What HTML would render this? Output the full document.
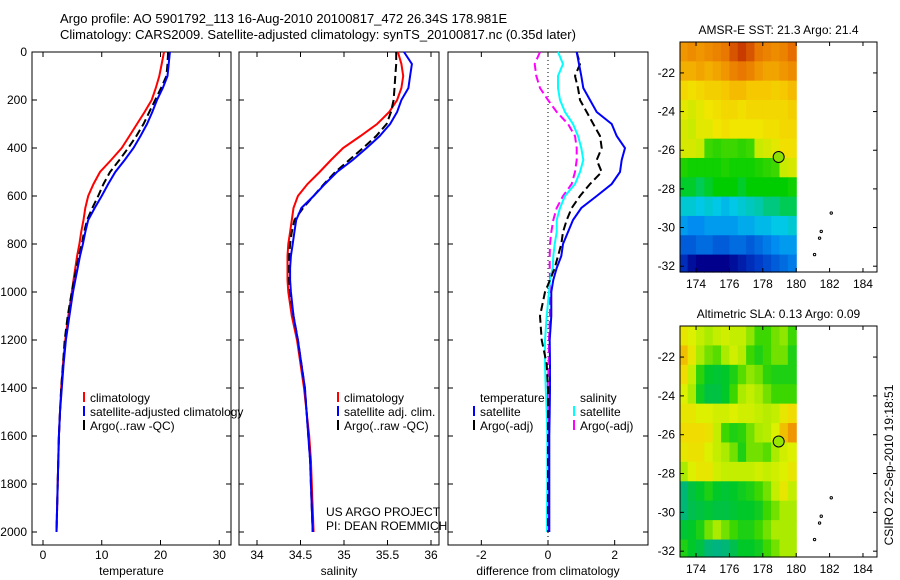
<!DOCTYPE html>
<html><head><meta charset="utf-8">
<style>
html,body{margin:0;padding:0;background:#fff;}
svg{display:block;font-family:"Liberation Sans",sans-serif;}
text{font-size:12px;fill:#000;}
</style></head>
<body>
<svg id="chart" width="900" height="580" viewBox="0 0 900 580" xmlns="http://www.w3.org/2000/svg">
<text x="60" y="23" style="font-size:13px">Argo profile: AO 5901792_113 16-Aug-2010 20100817_472 26.34S 178.981E</text>
<text x="60" y="39" style="font-size:13px">Climatology: CARS2009. Satellite-adjusted climatology: synTS_20100817.nc (0.35d later)</text>
</svg>
<script>
// ---------- data ----------
const depths = [0,50,100,150,200,250,300,350,400,450,500,550,600,650,700,750,800,850,900,950,1000,1100,1200,1300,1400,1500,1600,1700,1800,1900,2000];
const tempClim = [20.6,20.2,19.8,19.2,18.5,17.3,16.0,14.7,13.4,11.6,9.7,8.6,7.7,7.2,6.9,6.5,6.2,5.8,5.5,5.2,4.9,4.3,3.8,3.4,3.1,2.9,2.7,2.6,2.5,2.4,2.3];
const tempSat  = [21.6,21.4,21.2,20.4,19.4,18.6,17.7,16.6,15.4,13.9,12.3,11.1,10.0,8.8,7.7,7.2,6.8,6.3,5.9,5.5,5.1,4.5,3.9,3.5,3.2,2.9,2.7,2.6,2.5,2.4,2.3];
const tempArgo = [21.3,21.2,21.0,20.1,19.1,18.1,17.1,15.9,14.5,13.0,11.4,10.3,9.4,8.4,7.5,7.0,6.6,6.1,5.7,5.3,4.9,4.2,3.7,3.4,3.1,2.9,2.7,2.6,2.5,2.4,2.3];
const salClim = [35.62,35.66,35.68,35.66,35.61,35.52,35.38,35.19,34.99,34.85,34.72,34.58,34.47,34.42,34.40,34.38,34.36,34.35,34.35,34.35,34.36,34.40,34.46,34.50,34.54,34.57,34.60,34.62,34.63,34.64,34.65];
const salSat  = [35.69,35.78,35.76,35.74,35.66,35.61,35.53,35.41,35.26,35.10,34.92,34.78,34.65,34.51,34.45,34.43,34.41,34.39,34.38,34.38,34.39,34.42,34.47,34.51,34.55,34.57,34.59,34.61,34.62,34.63,34.64];
const salArgo = [35.60,35.60,35.59,35.58,35.57,35.54,35.49,35.37,35.22,35.06,34.90,34.77,34.65,34.53,34.43,34.40,34.38,34.37,34.37,34.37,34.38,34.42,34.47,34.51,34.55,34.57,34.59,34.61,34.62,34.63,34.64];
const diffTempSat  = [0.86,0.93,1.00,1.06,1.26,1.46,1.91,2.06,2.31,2.21,2.16,1.91,1.46,1.00,0.75,0.60,0.45,0.40,0.26,0.16,0.10,0.10,0.05,0.06,0.06,0.05,0.04,0.04,0.04,0.04,0.04];
const diffTempArgo = [0.86,0.96,0.81,0.90,0.96,1.16,1.36,1.56,1.61,1.46,1.61,1.26,0.96,0.71,0.56,0.45,0.40,0.30,0.20,0.06,-0.09,-0.24,-0.19,-0.04,0.00,0.00,0.00,0.00,0.00,0.00,0.00];
const diffSalSat   = [0.30,0.45,0.30,0.30,0.36,0.51,0.75,0.90,1.00,1.06,0.96,0.81,0.51,0.36,0.26,0.26,0.20,0.16,0.14,0.06,0.03,-0.04,-0.09,-0.09,-0.07,-0.04,-0.02,-0.02,-0.02,-0.03,-0.03];
const diffSalArgo  = [-0.24,-0.40,-0.35,-0.24,0.00,0.26,0.60,0.81,0.86,0.86,0.81,0.71,0.45,0.26,0.16,0.10,0.06,0.05,0.05,0.06,0.06,0.06,0.03,0.02,-0.01,-0.01,-0.01,-0.01,-0.01,-0.01,-0.01];
const depthTicks = [0,200,400,600,800,1000,1200,1400,1600,1800,2000];
const tempTicks = [0,10,20,30];
const salTicks = [34,34.5,35,35.5,36];
const diffTicks = [-2,0,2];
const mapLonTicks = [174,176,178,180,182,184];
const mapLatTicks = [22,24,26,28,30,32];
const gridLons = [173,173.5,174,174.5,175,175.5,176,176.5,177,177.5,178,178.5,179,179.5];
const gridLats = [20.4,21.4,22.4,23.4,24.4,25.4,26.4,27.4,28.4,29.4,30.4,31.4];
const sstGrid = [
[22.6,22.7,22.6,22.7,22.8,22.9,23.1,23.2,23.1,22.9,22.8,22.7,22.8,23.0],
[22.4,22.4,22.5,22.4,22.5,22.6,22.8,22.9,22.8,22.6,22.5,22.5,22.6,22.7],
[22.0,21.9,22.0,22.1,22.1,22.2,22.3,22.3,22.2,22.2,22.2,22.1,22.2,22.3],
[21.7,21.6,21.7,21.8,21.9,22.0,22.0,21.9,22.0,22.0,22.0,22.0,22.0,22.1],
[21.6,21.5,21.7,21.7,21.8,21.9,21.8,21.8,21.8,21.8,21.9,21.9,22.0,22.0],
[21.6,21.6,21.5,21.3,21.2,21.3,21.3,21.2,21.3,21.5,21.6,21.7,21.9,21.9],
[21.1,21.0,21.0,21.0,21.0,21.1,21.0,21.0,21.0,21.1,21.2,21.3,21.5,21.6],
[20.8,20.8,20.7,20.8,20.9,20.9,20.9,20.8,20.9,20.9,20.9,20.9,20.9,21.0],
[20.3,20.3,20.2,20.3,20.2,20.1,20.2,20.3,20.4,20.5,20.6,20.6,20.7,20.7],
[19.9,19.8,19.8,19.9,19.9,19.9,19.9,20.0,20.0,20.1,20.1,20.2,20.2,20.3],
[19.5,19.5,19.6,19.6,19.5,19.5,19.6,19.6,19.5,19.6,19.7,19.8,19.9,19.9],
[19.2,19.0,18.9,18.9,18.9,18.9,19.0,19.1,19.2,19.3,19.4,19.5,19.6,19.7]];
const slaGrid = [
[0.18,0.16,0.14,0.12,0.14,0.15,0.14,0.14,0.11,0.08,0.08,0.10,0.11,0.08],
[0.22,0.18,0.12,0.10,0.09,0.12,0.15,0.13,0.08,0.06,0.08,0.10,0.10,0.06],
[0.20,0.14,0.07,0.04,0.03,0.04,0.06,0.09,0.11,0.10,0.07,0.06,0.06,0.06],
[0.16,0.12,0.05,0.02,0.02,0.04,0.08,0.12,0.14,0.12,0.10,0.08,0.08,0.08],
[0.18,0.18,0.16,0.16,0.15,0.15,0.16,0.15,0.15,0.14,0.13,0.14,0.18,0.20],
[0.20,0.20,0.20,0.19,0.14,0.08,0.06,0.07,0.10,0.12,0.13,0.16,0.22,0.25],
[0.18,0.19,0.19,0.16,0.14,0.12,0.10,0.06,0.10,0.10,0.09,0.12,0.15,0.16],
[0.12,0.16,0.18,0.18,0.15,0.14,0.14,0.14,0.14,0.15,0.14,0.15,0.16,0.18],
[-0.02,0.02,0.04,0.06,0.04,0.03,0.04,0.05,0.06,0.08,0.10,0.14,0.18,0.14],
[-0.02,0.01,0.02,0.03,0.02,0.02,0.03,0.04,0.04,0.05,0.08,0.10,0.12,0.12],
[0.03,0.04,0.06,0.10,0.12,0.10,0.08,0.06,0.06,0.08,0.10,0.12,0.12,0.12],
[0.06,0.04,0.02,-0.02,-0.03,-0.02,0.01,0.04,0.04,0.05,0.08,0.10,0.12,0.12]];
const islandLons = [182.1,181.5,181.4,181.1];
const islandLats = [29.25,30.2,30.55,31.4];
const argoLon = 178.95, argoLat = 26.35;

// ---------- helpers ----------
const NS='http://www.w3.org/2000/svg';
const svg=document.getElementById('chart');
function mk(tag,attrs,parent){const e=document.createElementNS(NS,tag);for(const k in attrs)e.setAttribute(k,attrs[k]);(parent||svg).appendChild(e);return e;}
function txt(s,attrs,parent){const e=mk('text',attrs,parent);e.textContent=s;return e;}
const yD=d=>52+0.24*d;
function panel(name,x0,x1,xmin,xmax){return {name,x0,x1,sx:v=>x0+(v-xmin)/(xmax-xmin)*(x1-x0)};}
const P1=panel('temperature',32,231,-1.87,32.0);
const P2=panel('salinity',239,439,33.793,36.092);
const P3=panel('difference',448,648,-3.0,3.0);

function frame(p,ticks,fmt,label,showY){
  const g=mk('g',{});
  
  
  const r=mk('rect',{x:p.x0,y:52,width:p.x1-p.x0,height:493,fill:'none',stroke:'#000','stroke-width':1},g);
  
  
  depthTicks.forEach(d=>{
    mk('line',{x1:p.x0,x2:p.x0+5,y1:yD(d),y2:yD(d),stroke:'#000'},g);
    mk('line',{x1:p.x1,x2:p.x1-5,y1:yD(d),y2:yD(d),stroke:'#000'},g);
    if(showY){const t=txt(String(d),{x:27,y:yD(d)+4,'text-anchor':'end'},g);
      
      }
  });
  ticks.forEach(v=>{const x=p.sx(v);
    mk('line',{x1:x,x2:x,y1:545,y2:540,stroke:'#000'},g);
    mk('line',{x1:x,x2:x,y1:52,y2:57,stroke:'#000'},g);
    const t=txt(fmt(v),{x:x,y:559,'text-anchor':'middle'},g);
    
    
  });
  const l=txt(label,{x:(p.x0+p.x1)/2,y:575,'text-anchor':'middle'},g);
  
  
}
frame(P1,tempTicks,String,'temperature',true);
frame(P2,salTicks,String,'salinity',false);
frame(P3,diffTicks,String,'difference from climatology',false);
const zl=mk('line',{x1:P3.sx(0),x2:P3.sx(0),y1:52,y2:545,stroke:'#000','stroke-dasharray':'1,3'});



function series(p,vals,color,dash,name){
  const pts=depths.map((d,i)=>p.sx(vals[i]).toFixed(1)+','+yD(d).toFixed(1)).join(' ');
  const e=mk('polyline',{points:pts,fill:'none',stroke:color,'stroke-width':2,'stroke-dasharray':dash||'none'});
  
  
}
series(P1,tempClim,'#ff0000',null,'temp-climatology-line');
series(P1,tempArgo,'#000',"8,4",'temp-argo-line');
series(P1,tempSat,'#0000ff',null,'temp-satellite-line');
series(P2,salClim,'#ff0000',null,'sal-climatology-line');
series(P2,salArgo,'#000',"8,4",'sal-argo-line');
series(P2,salSat,'#0000ff',null,'sal-satellite-line');
series(P3,diffSalArgo,'#ff00ff',"8,4",'diff-sal-argo-line');
series(P3,diffSalSat,'#00ffff',null,'diff-sal-satellite-line');
series(P3,diffTempArgo,'#000',"8,4",'diff-temp-argo-line');
series(P3,diffTempSat,'#0000ff',null,'diff-temp-satellite-line');

function legend(x,y,items){
  items.forEach((it,i)=>{
    const yy=y+i*14;
    if(it[1]){const m=mk('rect',{x:x,y:yy-10,width:2,height:10,fill:it[1]});
      
      }
    const t=txt(it[0],{x:x+7,y:yy});
    
    
  });
}
legend(83,402,[['climatology','#ff0000'],['satellite-adjusted climatology','#0000ff'],['Argo(..raw -QC)','#000']]);
legend(337,402,[['climatology','#ff0000'],['satellite adj. clim.','#0000ff'],['Argo(..raw -QC)','#000']]);
legend(473,402,[['temperature',null],['satellite','#0000ff'],['Argo(-adj)','#000']]);
legend(573,402,[['salinity',null],['satellite','#00ffff'],['Argo(-adj)','#ff00ff']]);
const t1=txt('US ARGO PROJECT',{x:326,y:516});


const t2=txt('PI: DEAN ROEMMICH',{x:326,y:530});



// ---------- maps ----------
function lerp(a,b,t){return a.map((v,i)=>Math.round(v+(b[i]-v)*t));}
function cmap(stops,v){
  if(v<=stops[0][0])return stops[0][1];
  for(let i=1;i<stops.length;i++){if(v<=stops[i][0]){const t=(v-stops[i-1][0])/(stops[i][0]-stops[i-1][0]);return lerp(stops[i-1][1],stops[i][1],t);}}
  return stops[stops.length-1][1];
}
const sstStops=[[18.9,[0,0,140]],[19.3,[0,60,200]],[19.8,[0,140,240]],[20.2,[0,200,230]],[20.5,[0,200,170]],[20.9,[0,205,0]],[21.3,[60,215,0]],[21.5,[200,235,0]],[21.8,[240,230,0]],[22.2,[245,200,0]],[22.6,[240,150,0]],[23.0,[230,110,0]],[23.2,[200,60,0]]];
const slaStops=[[-0.03,[0,180,130]],[0.04,[0,200,40]],[0.08,[60,215,0]],[0.12,[170,235,0]],[0.16,[220,240,0]],[0.20,[240,220,0]],[0.25,[240,150,0]]];

function drawMap(name,top,bottom,grid,stops,title,argoColor){
  const x0=680,x1=877,lonMin=173.04,lonMax=184.84,latMin=20.4,latMax=32.3;
  const sx=l=>x0+(l-lonMin)/(lonMax-lonMin)*(x1-x0);
  const sy=l=>top+(l-latMin)/(latMax-latMin)*(bottom-top);
  const g=mk('g',{});
  
  
  grid.forEach((row,r)=>row.forEach((v,c)=>{
    const la0=gridLats[r],la1=(r+1<gridLats.length)?gridLats[r+1]:latMax;
    const lo0=Math.max(gridLons[c],lonMin),lo1=gridLons[c]+0.5;
    const col=cmap(stops,v);
    const cell=mk('rect',{x:sx(lo0),y:sy(la0),width:sx(lo1)-sx(lo0)+0.6,height:sy(la1)-sy(la0)+0.6,fill:'rgb('+col.join(',')+')'},g);
    
    
  }));
  const fr=mk('rect',{x:x0,y:top,width:x1-x0,height:bottom-top,fill:'none',stroke:'#000'},g);
  
  
  mapLonTicks.forEach(l=>{const x=sx(l);
    mk('line',{x1:x,x2:x,y1:bottom,y2:bottom-4,stroke:'#000'},g);
    mk('line',{x1:x,x2:x,y1:top,y2:top+4,stroke:'#000'},g);
    const t=txt(String(l),{x:x,y:bottom+16,'text-anchor':'middle'},g);
    
    });
  mapLatTicks.forEach(l=>{const y=sy(l);
    mk('line',{x1:x0,x2:x0+4,y1:y,y2:y,stroke:'#000'},g);
    mk('line',{x1:x1,x2:x1-4,y1:y,y2:y,stroke:'#000'},g);
    const t=txt('-'+l,{x:675,y:y+4,'text-anchor':'end'},g);
    
    });
  islandLons.forEach((lo,i)=>{const c=mk('circle',{cx:sx(lo),cy:sy(islandLats[i]),r:1.2,fill:'none',stroke:'#000','stroke-width':1},g);
    
    });
  const a=mk('circle',{cx:sx(argoLon),cy:sy(argoLat),r:5.5,fill:argoColor,stroke:'#000','stroke-width':1},g);
  
  
  const tt=txt(title,{x:(x0+x1)/2,y:top-8,'text-anchor':'middle'},g);
  
  
}
drawMap('sst',42,272,sstGrid,sstStops,'AMSR-E SST: 21.3  Argo: 21.4','rgb(140,225,0)');
drawMap('sla',326,557,slaGrid,slaStops,'Altimetric SLA: 0.13  Argo: 0.09','rgb(150,230,0)');
const st=txt('CSIRO 22-Sep-2010 19:18:51',{x:0,y:0,'text-anchor':'middle',transform:'translate(893,465) rotate(-90)'});


</script>
</body></html>
